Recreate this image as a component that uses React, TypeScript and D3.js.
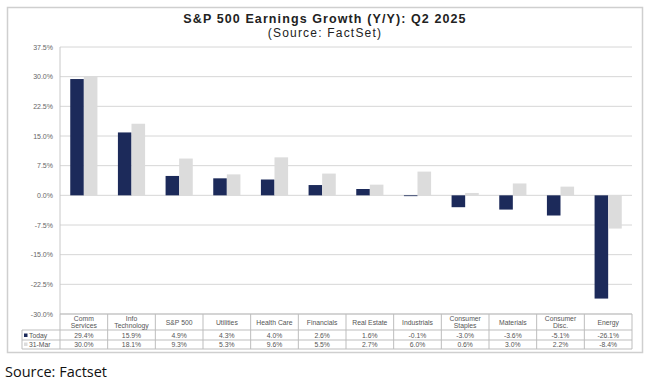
import { scaleBand, scaleLinear } from 'd3';

const categories = [
  'Comm\nServices', 'Info\nTechnology', 'S&P 500', 'Utilities', 'Health Care', 'Financials',
  'Real Estate', 'Industrials', 'Consumer\nStaples', 'Materials', 'Consumer\nDisc.', 'Energy',
];
const today = [29.4, 15.9, 4.9, 4.3, 4.0, 2.6, 1.6, -0.1, -3.0, -3.6, -5.1, -26.1];
const march31 = [30.0, 18.1, 9.3, 5.3, 9.6, 5.5, 2.7, 6.0, 0.6, 3.0, 2.2, -8.4];
const seriesNames = ['Today', '31-Mar'];
const yTicks = [37.5, 30, 22.5, 15, 7.5, 0, -7.5, -15, -22.5, -30];

const NAVY = '#1c2a5a';
const GREY = '#dcdcdc';

export default function App() {
  const W = 653, H = 389;
  const left = 60, right = 632, top = 47, bottom = 314;
  const tableLeft = 22;

  const x = scaleBand<number>().domain(categories.map((_, i) => i)).range([left, right])
    .paddingInner(0.43).paddingOuter(0.215);
  const x1 = scaleBand<string>().domain(seriesNames).range([0, x.bandwidth()]);
  const y = scaleLinear().domain([-30, 37.5]).range([bottom, top]);
  const step = x.step();
  const colStart = (i: number) => left + i * step;

  const rows = [
    { name: seriesNames[0], values: today, color: NAVY },
    { name: seriesNames[1], values: march31, color: GREY },
  ];
  const headerBottom = 330;
  const rowBottoms = [340, 349];
  const font = 'Arial, "Liberation Sans", sans-serif';

  return (
    <svg width={W} height={H} style={{ position: 'absolute', left: 0, top: 0, background: '#fff' }} fontFamily={font}>
      <rect x={0} y={0} width={W} height={H} fill="#fff" />
      <rect x={7.5} y={7.5} width={635} height={345} fill="#fff" stroke="#cfcfcf" strokeWidth={1.5} />

      <text x={325} y={23} textAnchor="middle" fontSize={12.5} fontWeight="bold" fill="#222" letterSpacing={1.1}>
        S&amp;P 500 Earnings Growth (Y/Y): Q2 2025
      </text>
      <text x={325} y={37} textAnchor="middle" fontSize={12} fill="#222" letterSpacing={1.2}>(Source: FactSet)</text>

      {yTicks.map(t => (
        <g key={t}>
          <line x1={left} x2={right} y1={y(t)} y2={y(t)} stroke="#d6d6d6" strokeWidth={1} />
          <text x={53} y={y(t) + 2.5} textAnchor="end" fontSize={7} fill="#666">{t.toFixed(1)}%</text>
        </g>
      ))}
      <line x1={left} x2={left} y1={top} y2={bottom} stroke="#c8c8c8" />

      {rows.map(r => r.values.map((v, i) => (
        <rect key={r.name + i} x={(x(i) ?? 0) + (x1(r.name) ?? 0)} width={x1.bandwidth()}
          y={y(Math.max(0, v))} height={Math.max(0.8, Math.abs(y(v) - y(0)))} fill={r.color} />
      )))}

      {/* data table */}
      <g stroke="#bdbdbd" strokeWidth={1} fill="none">
        <line x1={left} x2={right} y1={bottom} y2={bottom} />
        <line x1={tableLeft} x2={right} y1={headerBottom} y2={headerBottom} />
        {rowBottoms.map(b => <line key={b} x1={tableLeft} x2={right} y1={b} y2={b} />)}
        <line x1={tableLeft} x2={tableLeft} y1={headerBottom} y2={rowBottoms[1]} />
        {categories.map((_, i) => (
          <line key={i} x1={colStart(i)} x2={colStart(i)} y1={bottom} y2={rowBottoms[1]} />
        ))}
        <line x1={right} x2={right} y1={bottom} y2={rowBottoms[1]} />
      </g>

      {categories.map((c, i) => {
        const lines = c.split('\n');
        const cx = colStart(i) + step / 2;
        return (
          <text key={c} x={cx} textAnchor="middle" fontSize={6.8} fill="#555">
            {lines.map((l, k) => (
              <tspan key={k} x={cx} y={lines.length === 1 ? 324.5 : 321 + k * 7}>{l}</tspan>
            ))}
          </text>
        );
      })}

      {rows.map((r, ri) => {
        const yb = rowBottoms[ri];
        const ty = yb - 2.5;
        return (
          <g key={r.name}>
            <rect x={tableLeft + 2} y={ty - 4} width={3.5} height={3.5} fill={r.color} />
            <text x={tableLeft + 7} y={ty} fontSize={6.8} fill="#555">{r.name}</text>
            {r.values.map((v, i) => (
              <text key={i} x={colStart(i) + step / 2} y={ty} textAnchor="middle" fontSize={6.8} fill="#555">
                {v.toFixed(1)}%
              </text>
            ))}
          </g>
        );
      })}

      <text x={5} y={377} fontSize={14.5} fill="#111" fontFamily='"Open Sans", "Noto Sans", sans-serif'>
        Source: Factset
      </text>
    </svg>
  );
}
